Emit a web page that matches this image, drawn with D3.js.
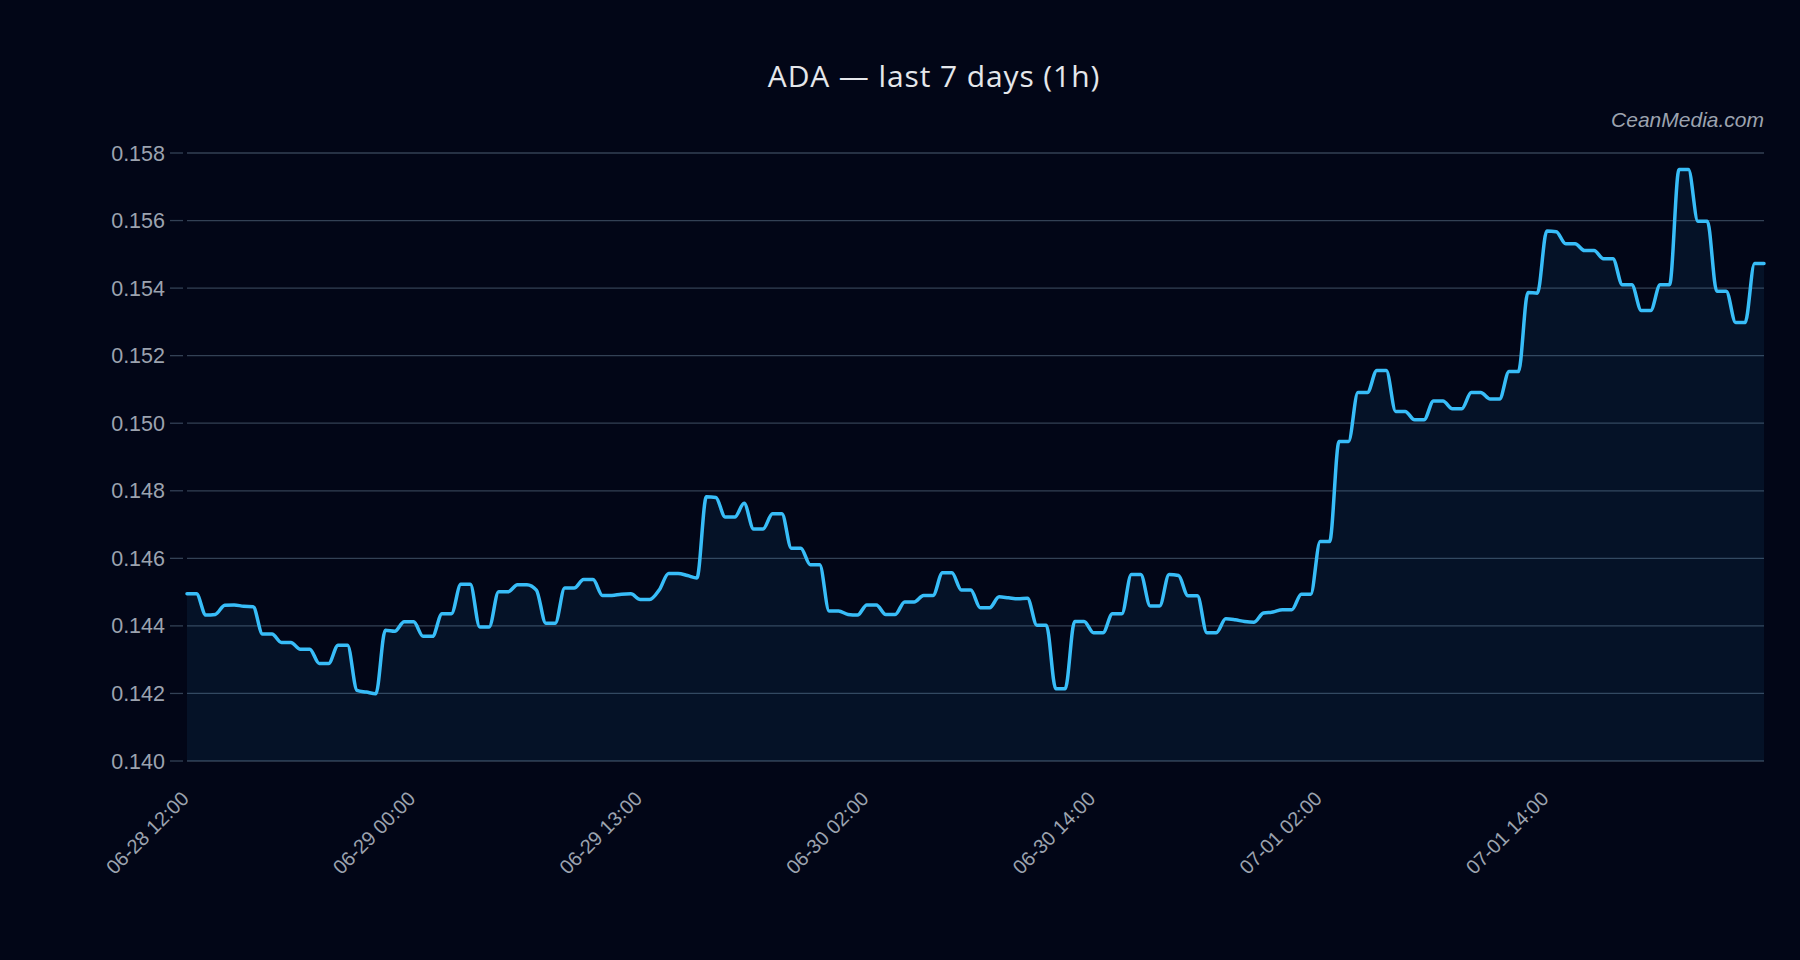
<!DOCTYPE html>
<meta charset="utf-8">
<style>
  body { margin: 0; background: #020617; }
</style>
<body>
<script src="https://d3js.org/d3.v7.min.js"></script>
<script>

// ADA close prices, 168 samples
var prices = [
  0.14495, 0.14495, 0.14432, 0.14434, 0.14461, 0.14462, 0.14458, 0.14457,
  0.14376, 0.14376, 0.14351, 0.14351, 0.14331, 0.14331, 0.14289, 0.14289,
  0.14343, 0.14343, 0.14209, 0.14204, 0.14199, 0.14387, 0.14384, 0.14412,
  0.14412, 0.14369, 0.14369, 0.14436, 0.14436, 0.14523, 0.14523, 0.14397,
  0.14397, 0.14501, 0.14501, 0.14522, 0.14522, 0.14506, 0.14408, 0.14408,
  0.14512, 0.14512, 0.14537, 0.14537, 0.14490, 0.14490, 0.14494, 0.14495,
  0.14478, 0.14478, 0.14506, 0.14555, 0.14555, 0.14549, 0.14542, 0.14782,
  0.14780, 0.14722, 0.14722, 0.14763, 0.14687, 0.14687, 0.14732, 0.14732,
  0.14630, 0.14630, 0.14581, 0.14581, 0.14444, 0.14444, 0.14434, 0.14432,
  0.14462, 0.14462, 0.14434, 0.14434, 0.14471, 0.14471, 0.14490, 0.14490,
  0.14557, 0.14557, 0.14506, 0.14506, 0.14454, 0.14454, 0.14486, 0.14483,
  0.14480, 0.14482, 0.14402, 0.14402, 0.14214, 0.14214, 0.14413, 0.14413,
  0.14380, 0.14380, 0.14436, 0.14436, 0.14552, 0.14552, 0.14459, 0.14459,
  0.14552, 0.14549, 0.14489, 0.14489, 0.14380, 0.14380, 0.14421, 0.14418,
  0.14413, 0.14411, 0.14438, 0.14441, 0.14448, 0.14448, 0.14494, 0.14494,
  0.14650, 0.14650, 0.14946, 0.14946, 0.15091, 0.15091, 0.15156, 0.15156,
  0.15035, 0.15035, 0.15010, 0.15010, 0.15066, 0.15066, 0.15043, 0.15043,
  0.15091, 0.15091, 0.15072, 0.15072, 0.15153, 0.15153, 0.15387, 0.15385,
  0.15569, 0.15567, 0.15531, 0.15531, 0.15511, 0.15511, 0.15487, 0.15487,
  0.15410, 0.15410, 0.15334, 0.15334, 0.15410, 0.15410, 0.15751, 0.15751,
  0.15598, 0.15598, 0.15391, 0.15391, 0.15298, 0.15298, 0.15473, 0.15473
];

// x tick positions (sample index) and their labels
var tickIndex = [0, 24, 48, 72, 96, 120, 144];
var tickLabels = ["06-28 12:00", "06-29 00:00", "06-29 13:00", "06-30 02:00",
                  "06-30 14:00", "07-01 02:00", "07-01 14:00"];

var yTicks = [0.140, 0.142, 0.144, 0.146, 0.148, 0.150, 0.152, 0.154, 0.156, 0.158];

var W = 1800, H = 960;
var plot = {left: 187, right: 1764, top: 153, bottom: 761};

var x = d3.scaleLinear()
    .domain([0, prices.length - 1])
    .range([plot.left, plot.right]);
var y = d3.scaleLinear()
    .domain([0.140, 0.158])
    .range([plot.bottom, plot.top]);

var svg = d3.select("body").append("svg")
    .attr("width", W)
    .attr("height", H)
    .style("display", "block")
    .style("background", "#020617");

// grid lines + y ticks
svg.append("g")
  .selectAll("line")
  .data(yTicks)
  .enter().append("line")
    .attr("x1", plot.left).attr("x2", plot.right)
    .attr("y1", function(d) { return y(d); })
    .attr("y2", function(d) { return y(d); })
    .attr("stroke", "#334155")
    .attr("stroke-width", 1.3);

svg.append("g")
  .selectAll("line")
  .data(yTicks)
  .enter().append("line")
    .attr("x1", plot.left - 17).attr("x2", plot.left - 4)
    .attr("y1", function(d) { return y(d); })
    .attr("y2", function(d) { return y(d); })
    .attr("stroke", "#334155")
    .attr("stroke-width", 1.3);

svg.append("g")
  .selectAll("text")
  .data(yTicks)
  .enter().append("text")
    .attr("x", plot.left - 22)
    .attr("y", function(d) { return y(d); })
    .attr("dy", "0.35em")
    .attr("text-anchor", "end")
    .style("font-family", "'Liberation Sans', Arial, sans-serif")
    .style("font-size", "21.5px")
    .style("fill", "#9ca3af")
    .text(function(d) { return d3.format(".3f")(d); });

// area under the line
var area = d3.area()
    .x(function(d, i) { return x(i); })
    .y0(plot.bottom)
    .y1(function(d) { return y(d); })
    .curve(d3.curveMonotoneX);

svg.append("path")
    .datum(prices)
    .attr("d", area)
    .attr("fill", "#38bdf8")
    .attr("fill-opacity", 0.07);

var line = d3.line()
    .x(function(d, i) { return x(i); })
    .y(function(d) { return y(d); })
    .curve(d3.curveMonotoneX);

svg.append("path")
    .datum(prices)
    .attr("d", line)
    .attr("fill", "none")
    .attr("stroke", "#38bdf8")
    .attr("stroke-width", 3.5)
    .attr("stroke-linejoin", "round")
    .attr("stroke-linecap", "round");

// x labels, rotated
svg.append("g")
  .selectAll("text")
  .data(tickIndex)
  .enter().append("text")
    .attr("transform", function(d) { return "translate(" + (x(d) + 3) + "," + 800 + ")rotate(-45)"; })
    .attr("text-anchor", "end")
    .style("font-family", "'Liberation Sans', Arial, sans-serif")
    .style("font-size", "20px")
    .style("fill", "#9ca3af")
    .text(function(d, i) { return tickLabels[i]; });

// title
svg.append("text")
    .attr("x", 934)
    .attr("y", 87)
    .attr("text-anchor", "middle")
    .style("font-family", "'Open Sans', sans-serif")
    .style("font-size", "30px")
    .style("letter-spacing", "0.9px")
    .style("fill", "#e5e7eb")
    .text("ADA \u2014 last 7 days (1h)");

// watermark
svg.append("text")
    .attr("x", plot.right)
    .attr("y", 127)
    .attr("text-anchor", "end")
    .style("font-family", "'Liberation Sans', Arial, sans-serif")
    .style("font-style", "italic")
    .style("font-size", "21px")
    .style("fill", "#9ca3af")
    .text("CeanMedia.com");

</script>
</body>
